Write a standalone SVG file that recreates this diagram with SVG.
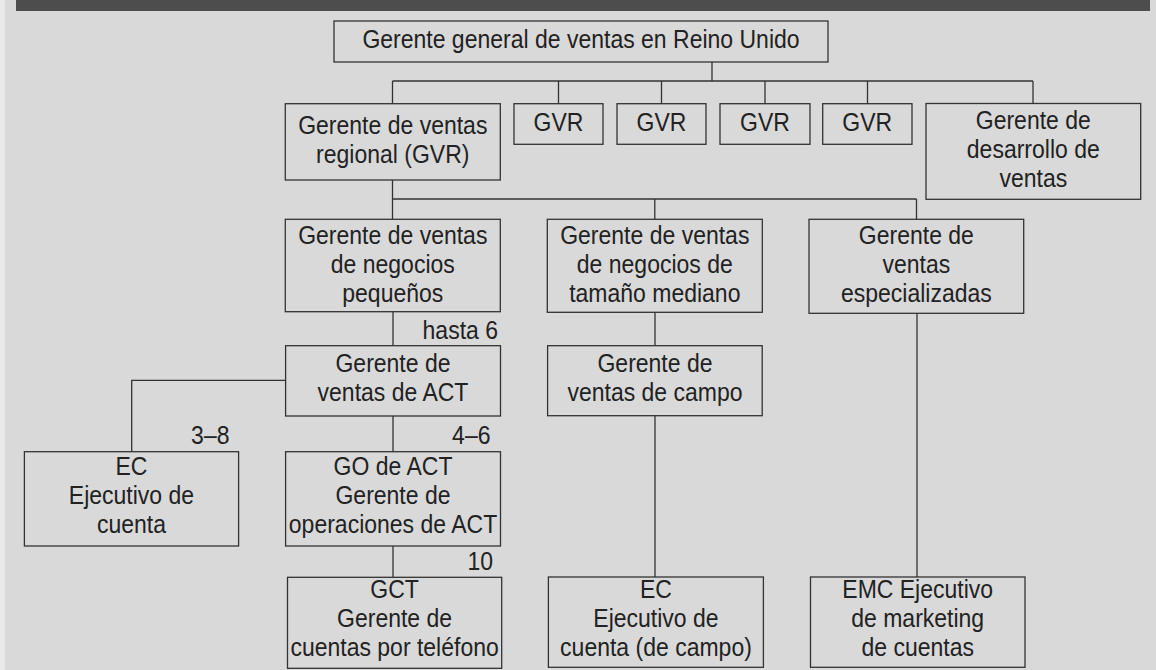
<svg xmlns="http://www.w3.org/2000/svg" width="1156" height="670" viewBox="0 0 1156 670">
<style>
.bg{fill:#d9d9d9}
.box{fill:#d9d9d9;stroke:#333;stroke-width:1.3}
.t{font-family:"Liberation Sans",Arial,sans-serif;font-size:25px;fill:#222;text-anchor:middle;transform-box:fill-box;transform-origin:50% 50%;transform:scaleX(0.92)}
.l{font-family:"Liberation Sans",Arial,sans-serif;font-size:25px;fill:#222;text-anchor:end;transform-box:fill-box;transform-origin:100% 50%;transform:scaleX(0.92)}
.c{fill:none;stroke:#333;stroke-width:1.3}
</style>
<rect class="bg" x="0" y="0" width="1156" height="670"/>
<rect x="0" y="0" width="5" height="670" fill="#e9e9e9"/>
<rect x="16" y="0" width="1134" height="11" fill="#4d4d4d"/>
<g id="connectors">
<path class="c" d="M712,62V81M392.5,81H1033M392.5,81V103.5M558.5,81V103.5M661.5,81V103.5M765,81V103.5M867.5,81V103.5M1033,81V103.5"/>
<path class="c" d="M392.5,180V219.3M392.5,199H916.5M654.8,199V219.3M916.5,199V219.3"/>
<path class="c" d="M393,312V345.7M285.6,380.3H131.7V451.7M393,416V451.7M393,546V577.3"/>
<path class="c" d="M655,312V345.7M655,416V577"/>
<path class="c" d="M917,313V577"/>
</g>
<g id="labels">
<text class="l" x="498" y="339">hasta 6</text>
<text class="l" x="229.5" y="444">3–8</text>
<text class="l" x="490.5" y="444">4–6</text>
<text class="l" x="493" y="570.5">10</text>
</g>
<g id="n-top">
<rect class="box" x="334" y="21" width="494" height="41"/>
<text class="t" x="581" y="48.5">Gerente general de ventas en Reino Unido</text>
</g>
<g id="n-regional">
<rect class="box" x="285.3" y="103.7" width="215" height="76.3"/>
<text class="t" x="392.8" y="134.5">Gerente de ventas</text>
<text class="t" x="392.8" y="163.5">regional (GVR)</text>
</g>
<g id="n-gvr1">
<rect class="box" x="514" y="103.7" width="89" height="40.6"/>
<text class="t" x="558.5" y="131.5">GVR</text>
</g>
<g id="n-gvr2">
<rect class="box" x="617" y="103.7" width="89" height="40.6"/>
<text class="t" x="661.5" y="131.5">GVR</text>
</g>
<g id="n-gvr3">
<rect class="box" x="720" y="103.7" width="90" height="40.6"/>
<text class="t" x="765" y="131.5">GVR</text>
</g>
<g id="n-gvr4">
<rect class="box" x="822.7" y="103.7" width="89.3" height="40.6"/>
<text class="t" x="867.3" y="131.5">GVR</text>
</g>
<g id="n-dev">
<rect class="box" x="926" y="103.5" width="214.7" height="95.8"/>
<text class="t" x="1033.3" y="129.5">Gerente de</text>
<text class="t" x="1033.3" y="158.5">desarrollo de</text>
<text class="t" x="1033.3" y="187.5">ventas</text>
</g>
<g id="n-small">
<rect class="box" x="285.3" y="219.3" width="215" height="92.4"/>
<text class="t" x="392.8" y="244.5">Gerente de ventas</text>
<text class="t" x="392.8" y="273.5">de negocios</text>
<text class="t" x="392.8" y="302">pequeños</text>
</g>
<g id="n-medium">
<rect class="box" x="547.3" y="219.3" width="215" height="93"/>
<text class="t" x="654.8" y="244.5">Gerente de ventas</text>
<text class="t" x="654.8" y="273.5">de negocios de</text>
<text class="t" x="654.8" y="302">tamaño mediano</text>
</g>
<g id="n-special">
<rect class="box" x="809" y="219.3" width="214.7" height="94"/>
<text class="t" x="916.4" y="244.5">Gerente de</text>
<text class="t" x="916.4" y="273.5">ventas</text>
<text class="t" x="916.4" y="302">especializadas</text>
</g>
<g id="n-act">
<rect class="box" x="285.6" y="345.7" width="214.9" height="70.3"/>
<text class="t" x="393" y="372.5">Gerente de</text>
<text class="t" x="393" y="401.5">ventas de ACT</text>
</g>
<g id="n-field">
<rect class="box" x="547.6" y="345.7" width="214.6" height="70"/>
<text class="t" x="655" y="372.5">Gerente de</text>
<text class="t" x="655" y="401.5">ventas de campo</text>
</g>
<g id="n-ec">
<rect class="box" x="24.4" y="451.7" width="214.2" height="94.3"/>
<text class="t" x="131.5" y="475.5">EC</text>
<text class="t" x="131.5" y="504.5">Ejecutivo de</text>
<text class="t" x="131.5" y="533.5">cuenta</text>
</g>
<g id="n-go">
<rect class="box" x="285.6" y="451.7" width="214.9" height="94.3"/>
<text class="t" x="393" y="475.5">GO de ACT</text>
<text class="t" x="393" y="504.5">Gerente de</text>
<text class="t" x="393" y="533.5">operaciones de ACT</text>
</g>
<g id="n-gct">
<rect class="box" x="287.5" y="577.3" width="214.2" height="91"/>
<text class="t" x="394.6" y="598">GCT</text>
<text class="t" x="394.6" y="627">Gerente de</text>
<text class="t" x="394.6" y="656">cuentas por teléfono</text>
</g>
<g id="n-ecfield">
<rect class="box" x="548.4" y="577" width="215" height="90.3"/>
<text class="t" x="656" y="598">EC</text>
<text class="t" x="656" y="627">Ejecutivo de</text>
<text class="t" x="656" y="656">cuenta (de campo)</text>
</g>
<g id="n-emc">
<rect class="box" x="810.5" y="577" width="214.5" height="90.3"/>
<text class="t" x="917.7" y="598">EMC Ejecutivo</text>
<text class="t" x="917.7" y="627">de marketing</text>
<text class="t" x="917.7" y="656">de cuentas</text>
</g>
</svg>
